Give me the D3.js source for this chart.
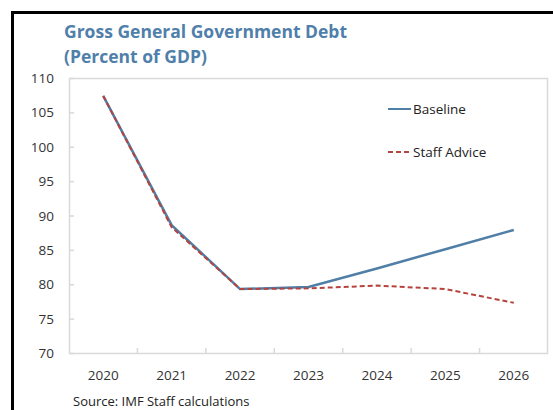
<!DOCTYPE html>
<html>
<head>
<meta charset="utf-8">
<script src="https://cdn.jsdelivr.net/npm/d3@7"></script>
<style>
	body { margin: 0; background: #fff; }
	text { font-family: "Open Sans", "Noto Sans", sans-serif; }
</style>
</head>
<body>
<div id="chart"></div>
<script>
var years = ["2020", "2021", "2022", "2023", "2024", "2025", "2026"];
var baseline = [107.4, 88.6, 79.3, 79.6, 82.3, 85.1, 87.9];
var staffAdvice = [107.4, 88.3, 79.3, 79.4, 79.8, 79.3, 77.3];
var yTicks = [70, 75, 80, 85, 90, 95, 100, 105, 110];
var seriesNames = ["Baseline", "Staff Advice"];

var width = 553;
var height = 410;
var margin = {top: 78, right: 5, bottom: 57, left: 69};
var figw = width - margin.left - margin.right;
var figh = height - margin.top - margin.bottom;

var colors = {"Baseline": "#4f7ea6", "Staff Advice": "#b5443f"};

var svg = d3.select("#chart").append("svg")
	.attr("width", width)
	.attr("height", height);

// outer frame (thick black, top and left visible)
svg.append("path")
	.attr("d", "M12.5," + height + " L12.5,12.5 L" + width + ",12.5")
	.attr("fill", "none")
	.attr("stroke", "#000")
	.attr("stroke-width", 3);

var x = d3.scaleBand()
	.domain(years)
	.range([margin.left, margin.left + figw]);
var y = d3.scaleLinear()
	.domain([70, 110])
	.range([margin.top + figh, margin.top]);

// plot border
svg.append("rect")
	.attr("x", margin.left + 0.5)
	.attr("y", margin.top + 0.5)
	.attr("width", figw - 1)
	.attr("height", figh)
	.attr("fill", "none")
	.attr("stroke", "#d9d9d9")
	.attr("stroke-width", 1.5);

// y axis: inward ticks, labels to the left
var yAxis = d3.axisRight(y)
	.tickValues(yTicks)
	.tickSize(5)
	.tickFormat("");
svg.append("g")
	.attr("transform", "translate(" + margin.left + ",0)")
	.call(yAxis)
	.call(function(g) {
		g.select(".domain").remove();
		g.selectAll(".tick line").attr("stroke", "#d9d9d9").attr("stroke-width", 1.5);
	});
svg.append("g").selectAll("text")
	.data(yTicks)
	.enter().append("text")
	.attr("x", 54)
	.attr("y", function(d) { return y(d) + 5; })
	.attr("text-anchor", "end")
	.attr("font-size", 13.5)
	.attr("fill", "#333")
	.text(function(d) { return d; });

// x axis: ticks between categories, pointing up
svg.append("g").selectAll("line")
	.data(years.slice(1))
	.enter().append("line")
	.attr("x1", function(d) { return x(d); })
	.attr("x2", function(d) { return x(d); })
	.attr("y1", margin.top + figh)
	.attr("y2", margin.top + figh - 5)
	.attr("stroke", "#d9d9d9")
	.attr("stroke-width", 1.5);
svg.append("g").selectAll("text")
	.data(years)
	.enter().append("text")
	.attr("x", function(d) { return x(d) + x.bandwidth() / 2; })
	.attr("y", margin.top + figh + 27)
	.attr("text-anchor", "middle")
	.attr("font-size", 13.5)
	.attr("fill", "#333")
	.text(function(d) { return d; });

var line = d3.line()
	.x(function(d, i) { return x(years[i]) + x.bandwidth() / 2; })
	.y(function(d) { return y(d); });

svg.append("path")
	.datum(baseline)
	.attr("d", line)
	.attr("fill", "none")
	.attr("stroke", colors["Baseline"])
	.attr("stroke-width", 2.5);

svg.append("path")
	.datum(staffAdvice)
	.attr("d", line)
	.attr("fill", "none")
	.attr("stroke", colors["Staff Advice"])
	.attr("stroke-width", 2)
	.attr("stroke-dasharray", "5,3");

// legend
var legend = svg.append("g")
	.attr("transform", "translate(388,0)");
var legendY = [109, 152];
for (var i = 0; i < seriesNames.length; i++) {
	legend.append("line")
		.attr("x1", 0)
		.attr("x2", 23)
		.attr("y1", legendY[i])
		.attr("y2", legendY[i])
		.attr("stroke", colors[seriesNames[i]])
		.attr("stroke-width", 2)
		.attr("stroke-dasharray", i == 1 ? "5,3" : null);
	legend.append("text")
		.attr("x", 25)
		.attr("y", legendY[i] + 5)
		.attr("font-size", 13.5)
		.attr("fill", "#222")
		.text(seriesNames[i]);
}

// title
svg.append("text")
	.attr("x", 64)
	.attr("y", 38)
	.attr("font-size", 17.5)
	.attr("font-weight", "bold")
	.attr("fill", "#4f7faa")
	.text("Gross General Government Debt");
svg.append("text")
	.attr("x", 64)
	.attr("y", 63)
	.attr("font-size", 17.5)
	.attr("font-weight", "bold")
	.attr("fill", "#4f7faa")
	.text("(Percent of GDP)");

// source
svg.append("text")
	.attr("x", 73)
	.attr("y", 406)
	.attr("font-size", 13)
	.attr("fill", "#222")
	.text("Source: IMF Staff calculations");
</script>
</body>
</html>
